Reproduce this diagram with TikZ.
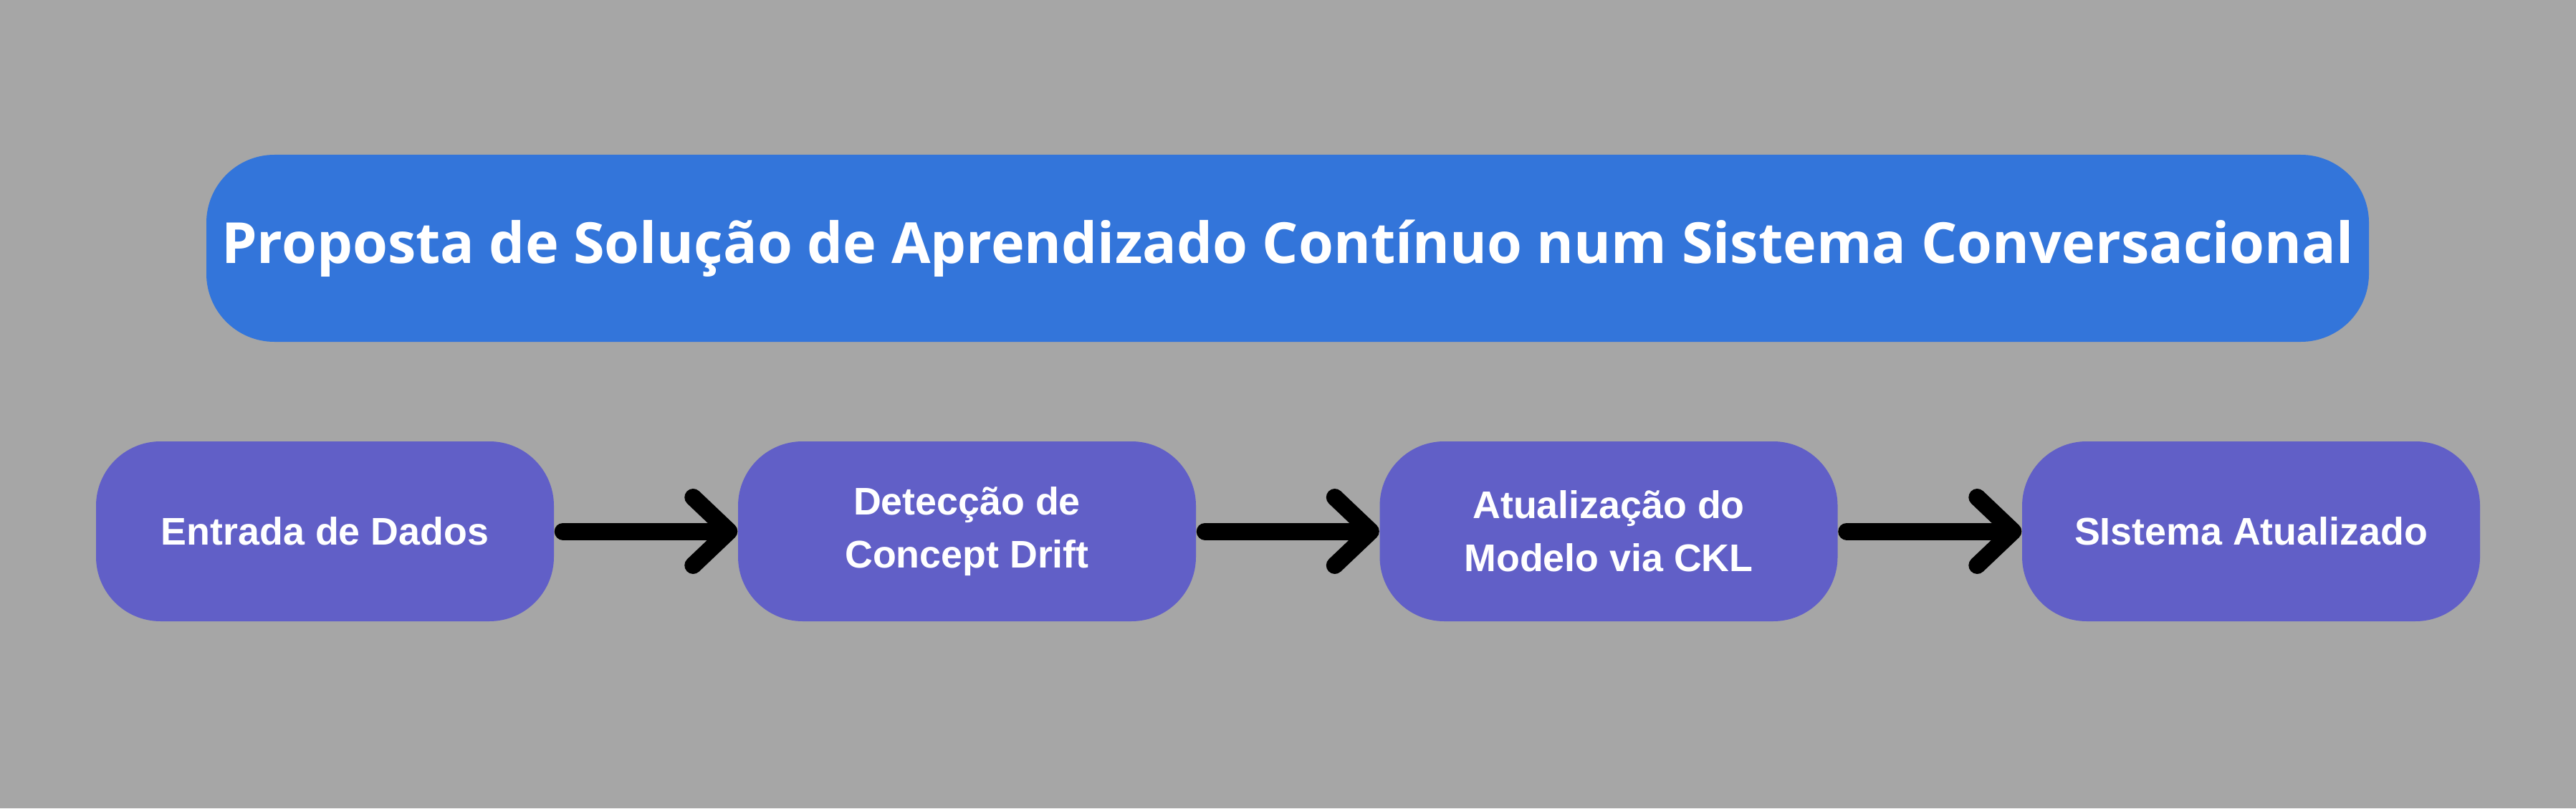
\documentclass[tikz,border=0pt]{standalone}
\usepackage{fontspec}
\setmainfont{Liberation Sans}
\newfontfamily\headfont{Open Sans}
\usetikzlibrary{arrows.meta}
\definecolor{bggray}{HTML}{A6A6A6}
\definecolor{headblue}{HTML}{3375DA}
\definecolor{stagepurple}{HTML}{615FC7}

\begin{document}
\begin{tikzpicture}[
every edge/.style = {draw=black,line width=0.24cm,line cap=round,
      shorten <=0.12cm,
      -{Straight Barb[length=0.5cm,width=0.95cm,line cap=round,line join=round]}},
 head/.style = {%
      rectangle, rounded corners=0.95cm, fill=headblue, text=white,
      minimum width=30.18cm, minimum height=2.61cm, inner sep=0pt,
      font=\headfont\bfseries\fontsize{22.5}{27}\selectfont},
 stage/.style = {%
      rectangle, rounded corners=0.9cm, fill=stagepurple, text=white,
      minimum width=6.39cm, minimum height=2.51cm, align=center,
      font=\bfseries\fontsize{15.3}{21}\selectfont}
                    ]
\fill[bggray] (0,0) rectangle (35.95,11.28);
%
\node(prop) [head] at (17.97, 7.815)
      {Proposta de Solução de Aprendizado Contínuo num Sistema Conversacional};
%
\node(entr) [stage] at (4.535, 3.865) {Entrada de Dados};
\node(detc) [stage] at (13.495, 3.865) {Detecção de\\Concept Drift};
\node(atua) [stage] at (22.45, 3.865) {Atualização do\\Modelo via CKL};
\node(sist) [stage] at (31.415, 3.865) {SIstema Atualizado};
%
\path   (entr)  edge (detc);
\path   (detc)  edge (atua);
\path   (atua)  edge (sist);
\end{tikzpicture}
\end{document}
